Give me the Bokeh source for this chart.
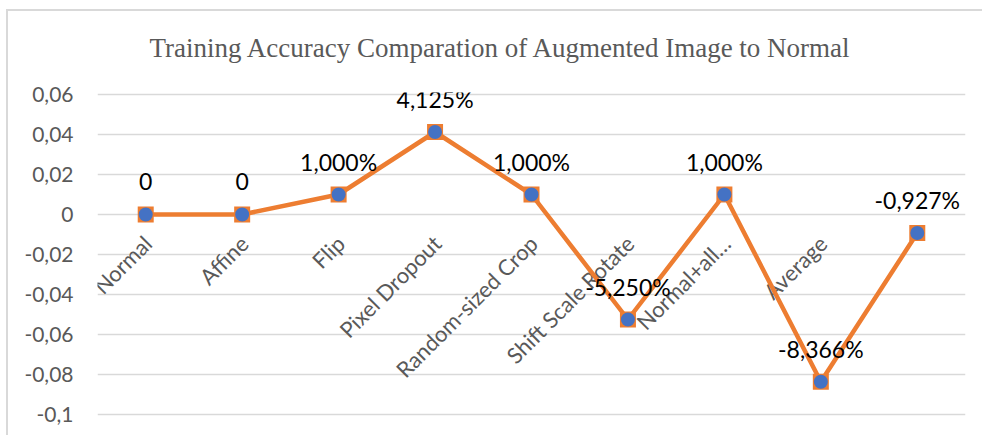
import math
from bokeh.plotting import figure
from bokeh.models import Range1d, FixedTicker, Title
from bokeh.core.properties import value
from bokeh.embed import file_html
from bokeh.resources import INLINE

# ---- data ----
categories = ["Normal", "Affine", "Flip", "Pixel Dropout", "Random-sized Crop",
              "Shift Scale Rotate", "Normal+all…", "Average", ""]
values = [0, 0, 0.01, 0.04125, 0.01, -0.0525, 0.01, -0.08366, -0.00927]
value_labels = ["0", "0", "1,000%", "4,125%", "1,000%", "-5,250%", "1,000%", "-8,366%", "-0,927%"]
y_ticks = [-0.1, -0.08, -0.06, -0.04, -0.02, 0, 0.02, 0.04, 0.06]
y_tick_labels = ["-0,1", "-0,08", "-0,06", "-0,04", "-0,02", "0", "0,02", "0,04", "0,06"]
title_text = "Training  Accuracy Comparation of Augmented Image to Normal"

xs = list(range(len(categories)))
zeros = [0] * len(categories)
pad = 0.001  # small headroom so the edge gridlines are not clipped

p = figure(width=976, height=426, output_backend="svg", toolbar_location=None,
           x_range=Range1d(-0.5, len(categories) - 0.5),
           y_range=Range1d(y_ticks[0] - pad, y_ticks[-1] + pad),
           min_border_left=89, min_border_right=19, min_border_top=81, min_border_bottom=21)

p.outline_line_color = None
p.background_fill_color = "white"
p.border_fill_color = "white"
# chart-area border (top and left visible)
p.styles = {"margin-left": "6px", "margin-top": "9px",
            "border-top": "2px solid #D9D9D9", "border-left": "2px solid #D9D9D9"}

# spacer between frame and title
p.add_layout(Title(text=" ", text_font_size="1px", standoff=27), "above")

# title
p.title.text = title_text
p.title.align = "left"
p.title.text_font = "Liberation Serif"
p.title.text_font_size = "27px"
p.title.text_font_style = "normal"
p.title.text_color = "#595959"
p.title.offset = 52
p.title.standoff = 0

# axes
p.xaxis.visible = False
p.yaxis.ticker = FixedTicker(ticks=y_ticks)
p.yaxis.major_label_overrides = {t: l for t, l in zip(y_ticks, y_tick_labels)}
p.yaxis.axis_line_color = None
p.yaxis.major_tick_line_color = None
p.yaxis.minor_tick_line_color = None
p.yaxis.major_tick_out = 0
p.yaxis.major_tick_in = 0
p.yaxis.major_label_standoff = 24
p.yaxis.major_label_text_font = "Lato"
p.yaxis.major_label_text_font_size = "21px"
p.yaxis.major_label_text_color = "#595959"

p.xgrid.grid_line_color = None
p.ygrid.ticker = FixedTicker(ticks=y_ticks)
p.ygrid.grid_line_color = "#D9D9D9"
p.ygrid.grid_line_width = 1.5

# category labels at the zero line
p.text(x=xs, y=zeros, text=categories, angle=math.pi / 4,
       text_align="right", text_baseline="middle", x_offset=2, y_offset=25,
       text_font=value("Lato"), text_font_size="22px", text_color="#595959")

# series
p.line(xs, values, line_color="#ED7D31", line_width=4.5, line_join="round")
p.scatter(xs, values, marker="square", size=16, fill_color="#ED7D31", line_color=None)
p.scatter(xs, values, marker="circle", size=14, fill_color="#4472C4", line_color=None)

# data labels
p.text(x=xs, y=values, text=value_labels, text_align="center", text_baseline="middle",
       y_offset=-33, text_font=value("Lato"), text_font_size="23px", text_color="#000000")

open("out.html", "w").write(file_html(p, INLINE))
